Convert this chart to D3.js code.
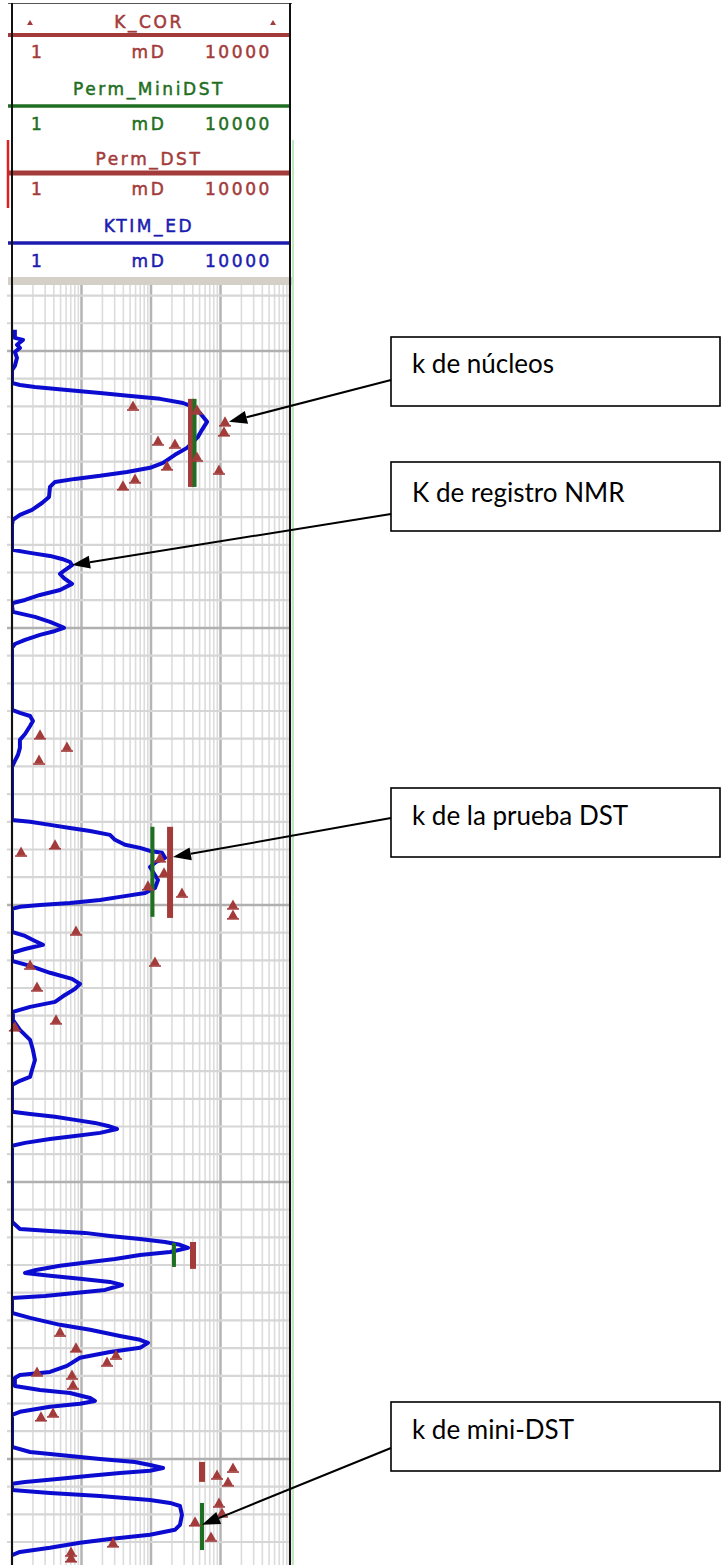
<!DOCTYPE html>
<html>
<head>
<meta charset="utf-8">
<script src="https://cdn.jsdelivr.net/npm/d3@7"></script>
<style>
  body { margin:0; background:#fff; }
</style>
</head>
<body>
<div id="chart"></div>
<script>
// ---------------- DATA ----------------
// KTIM_ED (NMR permeability), [depth m, mD]
const ktimCurve = [
  [1849.24,1.10],[1849.53,1.10],[1849.60,1.44],[1849.78,1.18],[1849.89,1.30],[1850.04,1.10],[1850.25,1.18],[1850.54,1.10],[1850.69,1.0],
  [1851.16,1.0],[1851.23,1.30],[1851.30,2.14],[1851.41,6.18],[1851.52,18.5],[1851.62,46.7],[1851.73,135],[1851.88,289],[1852.02,402],
  [1852.24,507],[1852.56,640],[1852.85,542],[1853.10,475],[1853.50,330],[1853.75,221],[1854.04,149],[1854.22,96.8],[1854.37,45.1],
  [1854.51,18.5],[1854.62,8.06],[1854.73,4.16],[1854.91,3.52],[1855.27,3.41],[1855.49,2.70],[1855.74,1.94],[1855.92,1.30],[1856.10,1.03],
  [1856.28,1.0],[1857.18,1.0],[1857.29,1.82],[1857.40,3.52],[1857.51,5.24],[1857.62,6.83],[1857.73,7.30],[1857.91,5.79],[1858.05,4.91],
  [1858.20,5.60],[1858.41,7.30],[1858.63,4.91],[1858.81,2.53],[1858.99,1.54],[1859.10,1.03],[1859.21,1.0],[1859.42,1.03],[1859.60,2.14],
  [1859.78,3.52],[1859.93,4.91],[1860.00,5.60],[1860.11,4.16],[1860.25,2.53],[1860.43,1.54],[1860.58,1.10],[1860.72,1.0],[1862.96,1.0],
  [1863.07,1.30],[1863.18,1.82],[1863.36,2.0],[1863.54,1.82],[1863.83,1.54],[1864.04,1.30],[1864.33,1.30],[1864.58,1.22],[1864.80,1.10],
  [1865.02,1.0],[1866.93,1.0],[1867.00,1.82],[1867.11,3.52],[1867.22,6.83],[1867.33,13.3],[1867.47,25.7],[1867.65,30.3],[1867.83,42.3],
  [1867.94,69.5],[1868.05,96.8],[1868.12,144],[1868.30,159],[1868.45,118],[1868.63,96.8],[1868.81,107],[1869.10,126],[1869.39,114],
  [1869.57,82.0],[1869.71,35.8],[1869.82,18.5],[1869.93,6.83],[1870.00,2.53],[1870.07,1.30],[1870.14,1.0],[1870.97,1.0],[1871.12,1.54],
  [1871.30,2.14],[1871.44,2.79],[1871.59,1.54],[1871.73,1.0],[1872.02,1.0],[1872.20,1.82],[1872.45,3.52],[1872.67,7.30],[1872.85,9.51],
  [1873.03,8.06],[1873.25,5.79],[1873.50,4.16],[1873.68,1.82],[1873.86,1.03],[1874.15,1.03],[1874.51,1.30],[1874.87,1.82],[1875.23,2.0],
  [1875.60,2.14],[1875.96,1.94],[1876.21,1.82],[1876.35,1.30],[1876.50,1.0],[1877.47,1.0],[1877.55,1.82],[1877.65,4.16],[1877.76,8.06],
  [1877.87,15.6],[1877.98,24.1],[1878.09,32.4],[1878.23,18.5],[1878.34,8.06],[1878.45,3.52],[1878.59,1.54],[1878.70,1.0],[1881.44,1.0],
  [1881.70,1.30],[1881.77,3.52],[1881.84,11.2],[1881.95,25.7],[1882.06,69.5],[1882.17,159],[1882.27,261],[1882.38,341],[1882.53,188],
  [1882.64,69.5],[1882.78,30.3],[1882.89,13.3],[1883.03,4.91],[1883.18,2.21],[1883.29,1.54],[1883.39,3.52],[1883.50,9.51],[1883.61,25.7],
  [1883.72,38.3],[1883.90,21.8],[1884.01,8.06],[1884.12,2.98],[1884.19,1.0],[1884.73,1.0],[1884.91,1.82],[1885.16,4.91],[1885.34,13.3],
  [1885.56,35.8],[1885.70,69.5],[1885.81,90.5],[1885.99,69.5],[1886.14,25.7],[1886.35,9.51],[1886.64,6.18],[1886.86,3.52],[1886.97,1.30],
  [1887.08,1.10],[1887.37,1.10],[1887.51,2.53],[1887.62,6.83],[1887.80,13.3],[1887.91,15.6],[1888.01,9.51],[1888.12,3.52],[1888.30,1.30],
  [1888.41,1.0],[1889.57,1.0],[1889.75,1.82],[1889.86,4.91],[1890.00,18.5],[1890.11,58.9],[1890.22,96.8],[1890.33,149],[1890.43,96.8],
  [1890.51,35.8],[1890.61,13.3],[1890.72,4.91],[1890.83,1.54],[1890.90,1.0],[1891.12,1.0],[1891.23,3.52],[1891.34,18.5],[1891.48,96.8],
  [1891.59,188],[1891.70,261],[1892.02,279],[1892.38,261],[1892.56,221],[1892.74,96.8],[1892.89,25.7],[1893.03,9.51],[1893.21,3.52],
  [1893.36,1.30],[1893.47,1.0]
];

// K_COR core permeability, [depth m, mD]
const corePoints = [
  [1851.99,55.1],[1852.13,459],[1852.56,1161],[1852.92,1122],[1853.25,126],[1853.36,221],[1853.83,459],[1854.15,170],
  [1854.30,951],[1854.62,58.9],[1854.87,39.5],[1863.86,2.53],[1864.30,6.18],[1864.77,2.45],[1867.83,4.16],[1868.09,1.35],
  [1868.30,135],[1868.84,154],[1869.31,90.5],[1869.57,279],[1870.00,1513],[1870.36,1513],[1870.94,8.34],[1872.06,114],
  [1872.17,1.82],[1872.96,2.29],[1874.15,4.30],[1874.40,1.10],[1885.42,4.91],[1885.99,8.34],[1886.25,31.4],[1886.50,23.3],
  [1886.86,2.29],[1886.97,7.30],[1887.33,7.55],[1888.34,3.89],[1888.48,2.61],[1890.33,1513],[1890.58,891],[1890.83,1282],
  [1891.59,951],[1891.95,1051],[1892.27,430],[1892.82,730],[1893.03,28.4],[1893.36,7.06],[1893.57,7.06]
];

// Perm_DST intervals, [top m, base m, mD]
const dstIntervals = [
  [1851.73,1854.91,376],[1867.18,1870.47,188],[1882.17,1883.14,402],[1890.11,1890.83,542]
];

// Perm_MiniDST intervals, [top m, base m, mD]
const miniDstIntervals = [
  [1851.73,1854.91,423],[1867.18,1870.43,105],[1882.20,1883.07,214],[1891.59,1893.29,542]
];

const curveNames = ["K_COR","Perm_MiniDST","Perm_DST","KTIM_ED"];
const curveUnit = "mD";

// callouts: label, target [depth m, mD]
const calloutText = ["k de núcleos","K de registro NMR","k de la prueba DST","k de mini-DST"];
const calloutTarget = [[1852.56,1325],[1857.73,7.30],[1868.27,207],[1892.38,542]];

// ---------------- LAYOUT ----------------
const W = 722, H = 1565;
const trackLeft = 12, trackRight = 290, trackTop = 285;
const brown = "#a33b3b", green = "#1f6f22", blue = "#1c1cb0", curveBlue = "#0c0cd0";
const curveColor = [brown, green, brown, blue];
const nameY = [28, 95, 165, 232], lineY = [35, 106, 173, 243], scaleY = [58, 130, 195, 267];
const lineW = [4, 3.5, 5, 3.5];
const boxTop = [337, 462, 788, 1402], boxBase = [36, 40, 37, 37], arrowFromY = [380, 514, 818, 1448];

const svg = d3.select("#chart").append("svg")
    .attr("width", W).attr("height", H)
    .style("display","block")
    .style("background","#fff");

/* ---------------- SCALES ---------------- */
const x = d3.scaleLog().domain([1,10000]).range([trackLeft,trackRight]);
const y = d3.scaleLinear().domain([1847.62,1893.83]).range([trackTop,H]);

/* ---------------- GRID ---------------- */
const grid = svg.append("g");
const depths = d3.range(Math.ceil(y.domain()[0]), Math.floor(y.domain()[1])+1);

grid.selectAll("line.v").data(x.ticks()).join("line")
    .attr("x1",d=>x(d)).attr("x2",d=>x(d))
    .attr("y1",trackTop).attr("y2",H)
    .attr("stroke",d=>Math.log10(d)%1===0 ? "#b4b4b4" : "#dcdcdc")
    .attr("stroke-width",d=>Math.log10(d)%1===0 ? 2.5 : 1.6);

grid.selectAll("line.h").data(depths).join("line")
    .attr("x1",7).attr("x2",trackRight)
    .attr("y1",d=>y(d)).attr("y2",d=>y(d))
    .attr("stroke",d=>d%10===0 ? "#b0b0b0" : "#d6d6d6")
    .attr("stroke-width",d=>d%10===0 ? 2.5 : 2.2);

/* ---------------- CURVE ---------------- */
svg.append("defs").append("clipPath").attr("id","trackClip")
    .append("rect").attr("x",trackLeft).attr("y",trackTop)
    .attr("width",trackRight-trackLeft).attr("height",H-trackTop);

const line = d3.line().x(d=>x(d[1])).y(d=>y(d[0]));

svg.append("path")
    .datum(ktimCurve)
    .attr("clip-path","url(#trackClip)")
    .attr("fill","none")
    .attr("stroke",curveBlue)
    .attr("stroke-width",4)
    .attr("stroke-linejoin","round")
    .attr("d",line);

/* ---------------- DST BARS ---------------- */
svg.append("g").selectAll("line").data(dstIntervals).join("line")
    .attr("x1",d=>x(d[2])).attr("x2",d=>x(d[2]))
    .attr("y1",d=>y(d[0])).attr("y2",d=>y(d[1]))
    .attr("stroke",brown).attr("stroke-width",6);

svg.append("g").selectAll("line").data(miniDstIntervals).join("line")
    .attr("x1",d=>x(d[2])).attr("x2",d=>x(d[2]))
    .attr("y1",d=>y(d[0])).attr("y2",d=>y(d[1]))
    .attr("stroke",green).attr("stroke-width",4);

/* ---------------- CORE TRIANGLES ---------------- */
const tri = svg.append("g").selectAll("g").data(corePoints).join("g")
    .attr("transform",d=>`translate(${x(d[1])},${y(d[0])})`);
tri.append("path").attr("d","M0,-5.5L5,3.5L-5,3.5Z").attr("fill",brown);
tri.append("line").attr("x1",-6).attr("x2",6).attr("y1",4).attr("y2",4)
    .attr("stroke",brown).attr("stroke-width",1.6);

/* ---------------- HEADER ---------------- */
const head = svg.append("g")
    .style("font-family","'DejaVu Sans', sans-serif")
    .style("font-size","17px")
    .style("letter-spacing","2.6px");

curveNames.forEach((name,i)=>{
    const c = curveColor[i];
    head.append("text").attr("x",149).attr("y",nameY[i])
        .attr("text-anchor","middle").attr("fill",c)
        .attr("stroke",c).attr("stroke-width",0.5).text(name);
    head.append("line").attr("x1",8).attr("x2",trackRight+1)
        .attr("y1",lineY[i]).attr("y2",lineY[i])
        .attr("stroke",c).attr("stroke-width",lineW[i]);
    head.append("text").attr("x",31).attr("y",scaleY[i])
        .attr("fill",c).attr("stroke",c).attr("stroke-width",0.5).text(x.domain()[0]);
    head.append("text").attr("x",149).attr("y",scaleY[i])
        .attr("text-anchor","middle").attr("fill",c)
        .attr("stroke",c).attr("stroke-width",0.5).text(curveUnit);
    head.append("text").attr("x",272).attr("y",scaleY[i])
        .attr("text-anchor","end").attr("fill",c)
        .attr("stroke",c).attr("stroke-width",0.5).text(x.domain()[1]);
});

// K_COR marker symbols in the header
[30,273].forEach(px=>{
    head.append("path").attr("transform",`translate(${px},23)`)
        .attr("d","M0,-3L3,2L-3,2Z").attr("fill",brown);
});

// grey separator bar
svg.append("rect").attr("x",8).attr("y",277).attr("width",285).attr("height",8).attr("fill","#d4d0c8");

/* ---------------- FRAME ---------------- */
svg.append("line").attr("x1",8).attr("x2",292).attr("y1",3.5).attr("y2",3.5)
    .attr("stroke","#555").attr("stroke-width",1.2);
svg.append("line").attr("x1",trackLeft).attr("x2",trackLeft).attr("y1",3).attr("y2",H)
    .attr("stroke","#111").attr("stroke-width",2);
svg.append("line").attr("x1",trackRight).attr("x2",trackRight).attr("y1",3).attr("y2",H)
    .attr("stroke","#111").attr("stroke-width",2);
svg.append("line").attr("x1",293).attr("x2",293).attr("y1",140).attr("y2",H)
    .attr("stroke","#bfe8bf").attr("stroke-width",2);
svg.append("line").attr("x1",8).attr("x2",8).attr("y1",140).attr("y2",208)
    .attr("stroke","#e02020").attr("stroke-width",2.5);

/* ---------------- CALLOUTS ---------------- */
const notes = svg.append("g");
calloutText.forEach((txt,i)=>{
    const bx = 391, by = boxTop[i];
    notes.append("rect").attr("x",bx).attr("y",by).attr("width",329).attr("height",69)
        .attr("fill","#fff").attr("stroke","#000").attr("stroke-width",1.6);
    notes.append("text").attr("x",412).attr("y",by+boxBase[i])
        .style("font-family","Lato, 'Open Sans', sans-serif").style("font-size","26px")
        .attr("fill","#000").text(txt);

    const tx = x(calloutTarget[i][1]), ty = y(calloutTarget[i][0]);
    const sx = bx, sy = arrowFromY[i];
    const ang = Math.atan2(ty-sy, tx-sx);
    const L = 18, hw = 6.5;
    const bxp = tx - L*Math.cos(ang), byp = ty - L*Math.sin(ang);
    notes.append("line").attr("x1",sx).attr("y1",sy).attr("x2",bxp).attr("y2",byp)
        .attr("stroke","#000").attr("stroke-width",2);
    notes.append("path")
        .attr("d",`M${tx},${ty}L${bxp+hw*Math.sin(ang)},${byp-hw*Math.cos(ang)}L${bxp-hw*Math.sin(ang)},${byp+hw*Math.cos(ang)}Z`)
        .attr("fill","#000");
});
</script>
</body>
</html>
